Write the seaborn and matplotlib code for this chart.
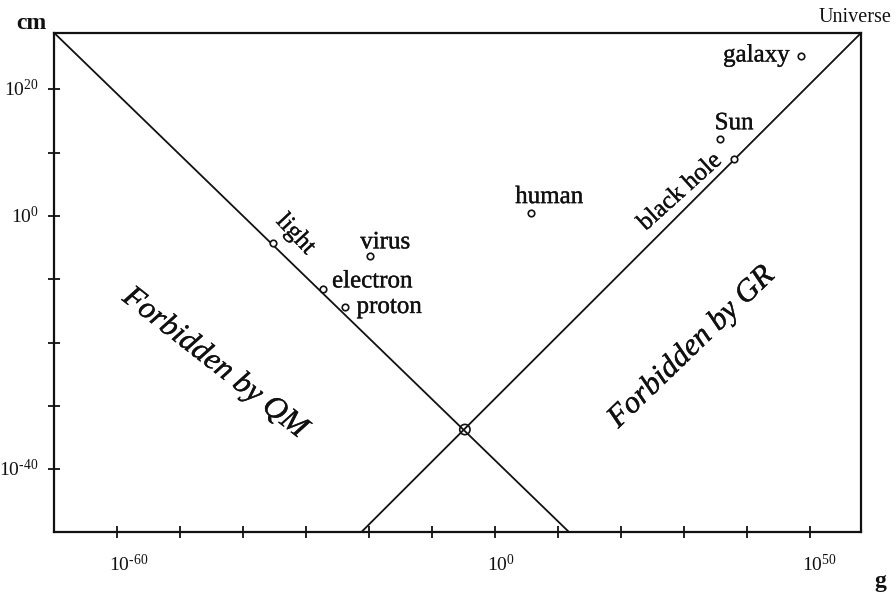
import matplotlib
matplotlib.use("Agg")
import matplotlib.pyplot as plt
import matplotlib.patheffects as pe
import seaborn as sns
import pandas as pd

# ---- data (log10 units) ----
obj_names = ["light", "electron", "proton", "virus", "human", "black hole", "Sun", "galaxy"]
obj_mass = [-35.2, -27.3, -23.8, -19.8, 5.7, 37.9, 35.7, 48.5]     # log10 g
obj_size = [-4.2, -11.5, -14.4, -6.3, 0.5, 8.95, 12.1, 25.3]       # log10 cm

planck_mass = [-4.8]
planck_size = [-33.7]

qm_mass = [-70.0, 11.65]
qm_size = [28.9, -49.8]
gr_mass = [-21.15, 58.1]
gr_size = [-49.8, 28.9]

x_ticks = [-60, -50, -40, -30, -20, -10, 0, 10, 20, 30, 40, 50]
y_ticks = [20, 10, 0, -10, -20, -30, -40]
x_labeled = [-60, 0, 50]
y_labeled = [20, 0, -40]

# ---- style ----
sns.set_theme(style="white")
plt.rcParams["font.family"] = ["Liberation Serif", "DejaVu Serif"]
plt.rcParams["mathtext.fontset"] = "custom"
plt.rcParams["mathtext.rm"] = "Liberation Serif"
plt.rcParams["mathtext.it"] = "Liberation Serif:italic"
plt.rcParams["mathtext.bf"] = "Liberation Serif:bold"

INK = "#111111"
thick = [pe.withStroke(linewidth=0.25, foreground=INK)]

fig = plt.figure(figsize=(8.96, 5.96), dpi=100)
ax = fig.add_axes([0.0606, 0.1082, 0.9003, 0.8364])
ax.set_facecolor("white")

lines = pd.DataFrame({
    "mass": qm_mass + gr_mass,
    "size": qm_size + gr_size,
    "which": ["QM"] * len(qm_mass) + ["GR"] * len(gr_mass),
})
sns.lineplot(data=lines, x="mass", y="size", units="which", estimator=None,
             sort=False, color=INK, linewidth=1.3, ax=ax, legend=False)

pts = pd.DataFrame({"mass": obj_mass, "size": obj_size, "name": obj_names})
sns.scatterplot(data=pts, x="mass", y="size", marker="o", s=22,
                facecolor="white", edgecolor=INK, linewidth=1.2, ax=ax, zorder=5)
sns.scatterplot(x=planck_mass, y=planck_size, marker="o", s=55,
                facecolor="none", edgecolor=INK, linewidth=1.2, ax=ax, zorder=5)

ax.set_xlim(-70, 58.1)
ax.set_ylim(-49.8, 28.9)
ax.set_xlabel("")
ax.set_ylabel("")

for s in ax.spines.values():
    s.set_visible(True)
    s.set_color(INK)
    s.set_linewidth(1.6)

ax.set_xticks(x_ticks)
ax.set_yticks(y_ticks)
ax.set_xticklabels([])
ax.set_yticklabels([])
ax.tick_params(axis="both", direction="inout", length=9, width=1.3, color=INK,
               bottom=True, left=True, top=False, right=False)

# tick labels: "10" centred on tick, exponent to the right
for t in x_labeled:
    ax.annotate(rf"$10^{{\text{{{t}}}}}$", xy=(t, 0), xycoords=("data", "axes fraction"),
                xytext=(-6.0, -28.8), textcoords="offset points",
                ha="left", va="baseline", fontsize=14, color=INK)
for t in y_labeled:
    ax.annotate(rf"$10^{{\text{{{t}}}}}$", xy=(0, t), xycoords=("axes fraction", "data"),
                xytext=(-11.2, -5.0), textcoords="offset points",
                ha="right", va="baseline", fontsize=14, color=INK)

# axis unit labels
fig.text(0.0346, 0.9508, "cm", fontsize=17, fontweight="bold", ha="center", va="baseline", color=INK)
fig.text(0.982, 0.015, "g", fontsize=17, fontweight="bold", ha="center", va="baseline", color=INK)
fig.text(0.954, 0.9636, "Universe", fontsize=14.5, ha="center", va="baseline", color=INK)

# object labels
lab_fs = 18
tk = dict(fontsize=lab_fs, color=INK, path_effects=thick)
ax.text(36.2, 24.4, obj_names[7], ha="left", va="baseline", **tk)
ax.text(37.95, 13.7, obj_names[6], ha="center", va="baseline", **tk)
ax.text(8.6, 2.05, obj_names[4], ha="center", va="baseline", **tk)
ax.text(-17.45, -5.1, obj_names[3], ha="center", va="baseline", **tk)
ax.text(-25.9, -11.26, obj_names[1], ha="left", va="baseline", **tk)
ax.text(-22.0, -15.3, obj_names[2], ha="left", va="baseline", **tk)
ax.text(-31.7, -2.9, obj_names[0], ha="center", va="center", rotation=-47,
        rotation_mode="anchor", **tk)
ax.text(29.4, 3.8, obj_names[5], ha="center", va="center", rotation=42,
        rotation_mode="anchor", **tk)

# region labels
ax.text(-44.5, -23.2, "Forbidden by QM", fontsize=22.5, style="italic", color=INK,
        ha="center", va="center", rotation=-38, rotation_mode="anchor", path_effects=thick)
ax.text(31.2, -20.7, "Forbidden by GR", fontsize=22.5, style="italic", color=INK,
        ha="center", va="center", rotation=44, rotation_mode="anchor", path_effects=thick)

fig.savefig("out.png", dpi=100, facecolor="white")
